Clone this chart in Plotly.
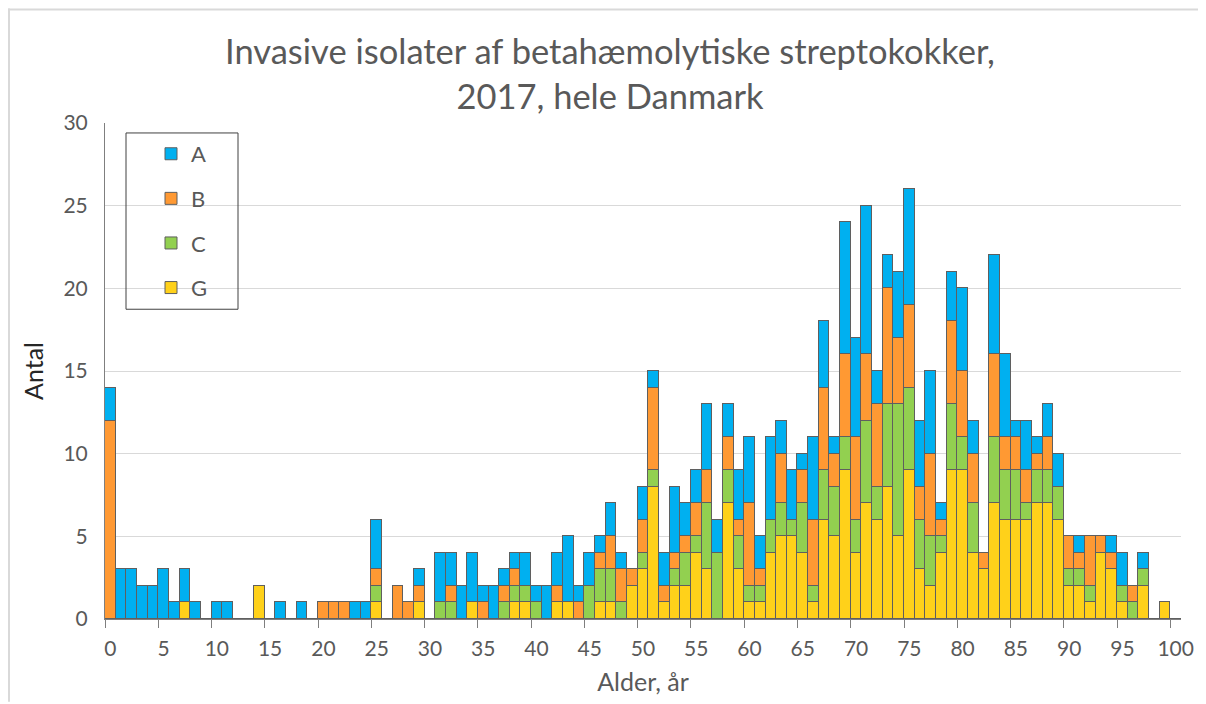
import plotly.graph_objects as go

ages = list(range(0, 101))

# Counts per age (0..100) for each group
G = [0,0,0,0,0,0,0,1,0,0, 0,0,0,0,2,0,0,0,0,0,
     0,0,0,0,0,1,0,0,0,1, 0,0,0,0,1,0,0,0,1,1,
     0,0,1,1,0,0,1,1,0,2, 3,8,1,2,2,4,3,0,7,3,
     1,1,4,5,5,4,1,6,5,9, 4,7,6,8,5,9,3,2,4,9,
     9,4,3,7,6,6,6,7,7,6, 2,2,1,4,3,1,0,2,0,1, 0]
C = [0,0,0,0,0,0,0,0,0,0, 0,0,0,0,0,0,0,0,0,0,
     0,0,0,0,0,1,0,0,0,0, 0,1,1,0,0,0,0,1,1,1,
     1,0,0,0,0,2,2,2,1,0, 1,1,0,1,2,1,4,4,2,2,
     1,1,2,2,1,3,1,3,3,2, 2,5,2,5,8,5,3,3,1,4,
     2,3,0,4,3,3,1,2,2,2, 1,1,1,0,0,1,1,1,0,0, 0]
B = [12,0,0,0,0,0,0,0,0,0, 0,0,0,0,0,0,0,0,0,0,
     1,1,1,0,0,1,0,2,1,1, 0,0,1,0,0,1,0,1,1,0,
     0,0,1,0,1,0,1,2,2,1, 2,5,1,1,1,2,2,0,2,1,
     5,1,0,3,0,2,4,5,2,5, 5,4,5,7,4,5,2,5,1,5,
     4,3,1,5,2,2,2,1,2,0, 2,1,3,1,1,0,1,0,0,0, 0]
A = [2,3,3,2,2,3,1,2,1,0, 1,1,0,0,0,0,1,0,1,0,
     0,0,0,1,1,3,0,0,0,1, 0,3,2,2,3,1,2,1,1,2,
     1,2,2,4,1,2,1,2,1,0, 2,1,2,4,2,2,4,2,2,3,
     4,2,5,2,3,1,5,4,1,8, 6,9,2,2,4,7,4,5,1,3,
     5,2,0,6,5,1,3,1,2,2, 0,1,0,0,1,2,0,1,0,0, 0]

# stacking order bottom -> top, with legend rank (A first)
series = [("G", G, "#FFD11A", 4), ("C", C, "#92D050", 3), ("B", B, "#FF9933", 2), ("A", A, "#00B0F0", 1)]
x_ticks = list(range(0, 101, 5))
y_ticks = list(range(0, 31, 5))

TXT = "#595959"
FONT = "Lato"

W, H = 1198, 696
L, R, T, Bm = 97, 25, 115, 83
PW, PH = W - L - R, H - T - Bm


def px(xp):
    return (xp - L) / PW


def py(yp):
    return (H - Bm - yp) / PH


fig = go.Figure()
for name, vals, col, rank in series:
    fig.add_trace(go.Bar(
        x=ages, y=vals, name=name, legendgroup=name, legendrank=rank,
        marker=dict(color=col, line=dict(color="#5f5f5f", width=1)),
    ))

fig.update_layout(
    width=W, height=H,
    barmode="stack", bargap=0,
    paper_bgcolor="white", plot_bgcolor="white",
    margin=dict(l=L, r=R, t=T, b=Bm),
    font=dict(family=FONT, color=TXT, size=20),
    title=dict(
        text="Invasive isolater af betahæmolytiske streptokokker,<br>2017, hele Danmark",
        xref="container", x=602 / W, xanchor="center",
        yref="container", y=1 - 56 / H, yanchor="middle",
        font=dict(family=FONT, size=34.5, color=TXT),
    ),
    legend=dict(
        x=px(143), y=py(125), xanchor="left", yanchor="top",
        bgcolor="rgba(0,0,0,0)", borderwidth=0,
        traceorder="grouped", tracegroupgap=13,
        font=dict(family=FONT, size=22, color=TXT),
        itemwidth=30,
    ),
    showlegend=True,
)

fig.update_xaxes(
    range=[-0.5, 100.5],
    tickmode="array", tickvals=x_ticks, ticktext=[str(v) for v in x_ticks],
    ticks="", showgrid=False, zeroline=False,
    showline=True, linecolor="#7f7f7f", linewidth=1,
    tickfont=dict(family=FONT, size=21, color=TXT),
    ticklabelstandoff=11,
    minor=dict(tick0=-0.5, dtick=5, ticks="outside", ticklen=8, tickcolor="#7f7f7f", showgrid=False),
    title=dict(text="Alder, år", font=dict(family=FONT, size=25, color=TXT), standoff=14),
)
fig.update_yaxes(
    range=[0, 30], tickmode="array", tickvals=y_ticks,
    showgrid=True, gridcolor="#d9d9d9", gridwidth=1,
    zeroline=False, showline=True, linecolor="#7f7f7f", linewidth=1,
    ticks="", tickfont=dict(family=FONT, size=21, color=TXT),
    ticklabelstandoff=12,
    title=dict(text="Antal", font=dict(family=FONT, size=25, color="#262626"), standoff=12),
)

# legend frame
fig.add_shape(type="rect", xref="paper", yref="paper",
              x0=px(118), x1=px(230), y0=py(125), y1=py(302),
              line=dict(color="#404040", width=1), fillcolor="rgba(0,0,0,0)", layer="above")

# outer chart frame (light gray)
fig.add_shape(type="line", xref="paper", yref="paper",
              x0=px(0), x1=px(W), y0=py(1), y1=py(1),
              line=dict(color="#d9d9d9", width=2))
fig.add_shape(type="line", xref="paper", yref="paper",
              x0=px(1), x1=px(1), y0=py(0), y1=py(H),
              line=dict(color="#d9d9d9", width=2))

fig.write_html("out.html")
